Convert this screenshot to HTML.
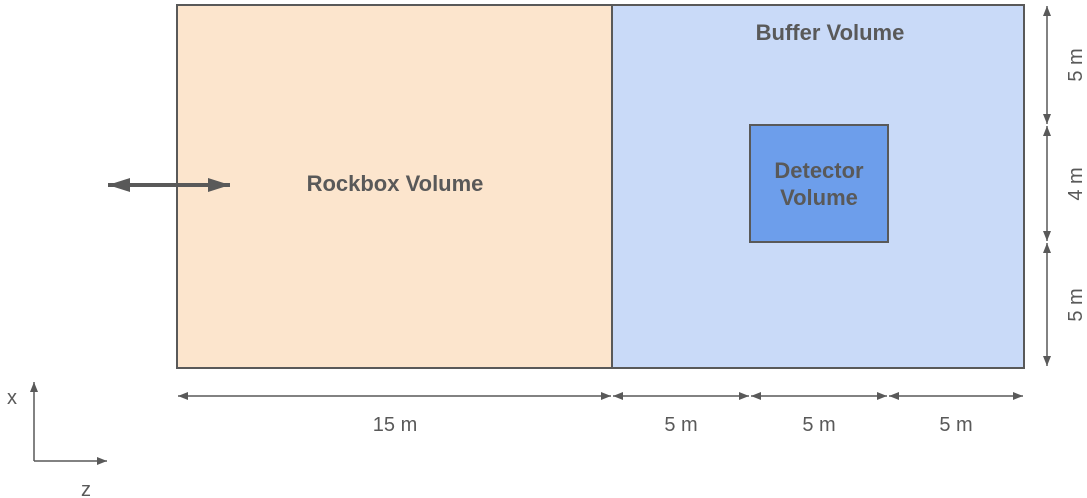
<!DOCTYPE html>
<html><head><meta charset="utf-8"><style>
html,body{margin:0;padding:0;background:#fff;}
svg{display:block;}
text{font-family:"Liberation Sans",Arial,sans-serif;fill:#595959;}
.b{font-weight:bold;font-size:22px;}
.d{font-size:20px;}
</style></head><body>
<svg width="1087" height="498" viewBox="0 0 1087 498">
<defs>
<marker id="ah" viewBox="0 0 10 10" refX="10" refY="5" markerWidth="10" markerHeight="10" markerUnits="userSpaceOnUse" orient="auto-start-reverse"><path d="M0,1 L10,5 L0,9 Z" fill="#595959"/></marker>
<marker id="ahb" viewBox="0 0 22 16" refX="22" refY="8" markerWidth="22" markerHeight="16" markerUnits="userSpaceOnUse" orient="auto-start-reverse"><path d="M0,1 L22,8 L0,15 Z" fill="#595959"/></marker>
</defs>
<rect x="177" y="5" width="435" height="363" fill="#fce5cd" stroke="#595959" stroke-width="2"/>
<rect x="612" y="5" width="412" height="363" fill="#c9daf8" stroke="#595959" stroke-width="2"/>
<rect x="750" y="125" width="138" height="117" fill="#6d9eeb" stroke="#595959" stroke-width="2"/>
<text class="b" x="395" y="191" text-anchor="middle">Rockbox Volume</text>
<text class="b" x="830" y="40" text-anchor="middle">Buffer Volume</text>
<text class="b" x="819" y="178" text-anchor="middle"><tspan x="819">Detector</tspan><tspan x="819" dy="27">Volume</tspan></text>
<line x1="108" y1="185" x2="230" y2="185" stroke="#595959" stroke-width="4" marker-start="url(#ahb)" marker-end="url(#ahb)"/>
<g stroke="#595959" stroke-width="1.5">
<line x1="1047" y1="6" x2="1047" y2="124" marker-start="url(#ah)" marker-end="url(#ah)"/>
<line x1="1047" y1="126" x2="1047" y2="241" marker-start="url(#ah)" marker-end="url(#ah)"/>
<line x1="1047" y1="243" x2="1047" y2="366" marker-start="url(#ah)" marker-end="url(#ah)"/>
<line x1="178" y1="396" x2="611" y2="396" marker-start="url(#ah)" marker-end="url(#ah)"/>
<line x1="613" y1="396" x2="749" y2="396" marker-start="url(#ah)" marker-end="url(#ah)"/>
<line x1="751" y1="396" x2="887" y2="396" marker-start="url(#ah)" marker-end="url(#ah)"/>
<line x1="889" y1="396" x2="1023" y2="396" marker-start="url(#ah)" marker-end="url(#ah)"/>
</g>
<text class="d" x="395" y="431" text-anchor="middle">15 m</text>
<text class="d" x="681" y="431" text-anchor="middle">5 m</text>
<text class="d" x="819" y="431" text-anchor="middle">5 m</text>
<text class="d" x="956" y="431" text-anchor="middle">5 m</text>
<text class="d" transform="translate(1082,65) rotate(-90)" text-anchor="middle">5 m</text>
<text class="d" transform="translate(1082,184) rotate(-90)" text-anchor="middle">4 m</text>
<text class="d" transform="translate(1082,305) rotate(-90)" text-anchor="middle">5 m</text>
<g stroke="#595959" stroke-width="1.5">
<line x1="34" y1="461" x2="34" y2="382" marker-end="url(#ah)"/>
<line x1="34" y1="461" x2="107" y2="461" marker-end="url(#ah)"/>
</g>
<text class="d" x="12" y="404" text-anchor="middle">x</text>
<text class="d" x="86" y="496" text-anchor="middle">z</text>
</svg>
</body></html>
